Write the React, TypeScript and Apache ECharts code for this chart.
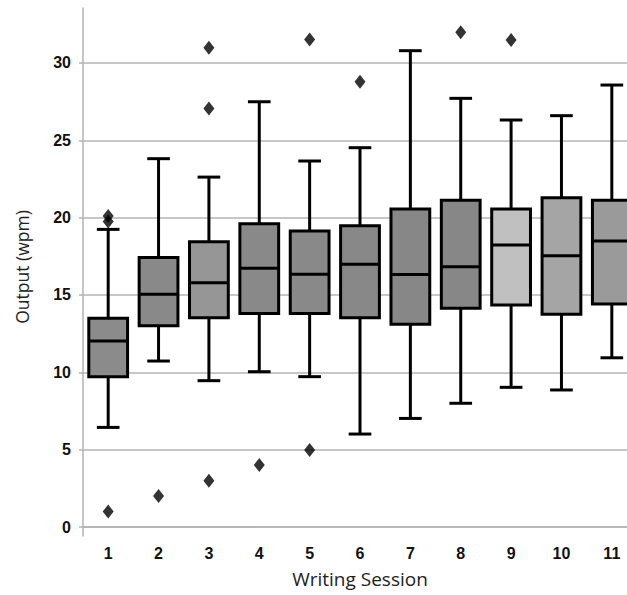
import React, { useEffect, useRef } from 'react';
import * as echarts from 'echarts';

const sessions = ['1', '2', '3', '4', '5', '6', '7', '8', '9', '10', '11'];
const lowerWhisker = [6.44, 10.73, 9.46, 10.04, 9.72, 6.01, 7.02, 8.0, 9.03, 8.86, 10.94];
const q1 = [9.72, 13.01, 13.53, 13.81, 13.81, 13.53, 13.1, 14.14, 14.35, 13.75, 14.41];
const median = [12.02, 15.04, 15.79, 16.72, 16.34, 16.98, 16.33, 16.83, 18.23, 17.54, 18.49];
const q3 = [13.49, 17.43, 18.44, 19.61, 19.13, 19.48, 20.56, 21.12, 20.56, 21.29, 21.12];
const upperWhisker = [19.24, 23.81, 22.62, 27.49, 23.66, 24.52, 30.79, 27.71, 26.31, 26.59, 28.57];
const boxColors = ['#8b8b8b', '#898989', '#969696', '#898989', '#898989', '#888888', '#878787', '#878787', '#c0c0c0', '#a5a5a5', '#9a9a9a'];
// outliers: [sessionIndex, value]
const outliers = [
  [0, 1.0], [0, 19.75], [0, 20.1],
  [1, 2.0],
  [2, 2.99], [2, 27.06], [2, 30.98],
  [3, 4.01],
  [4, 4.98], [4, 31.52],
  [5, 28.79],
  [7, 31.98],
  [8, 31.48],
];
const yTicks = [0, 5, 10, 15, 20, 25, 30];

export default function App() {
  const ref = useRef<HTMLDivElement>(null);
  useEffect(() => {
    const chart = echarts.init(ref.current!, null, { renderer: 'svg' });
    const boxData = sessions.map((_, i) => [i, lowerWhisker[i], q1[i], median[i], q3[i], upperWhisker[i]]);
    const renderBox = (params: any, api: any) => {
      const idx = api.value(0);
      const band = api.size([1, 0])[0];
      const boxW = band * 0.77;
      const capW = band * 0.45;
      const pLow = api.coord([idx, api.value(1)]);
      const pQ1 = api.coord([idx, api.value(2)]);
      const pMed = api.coord([idx, api.value(3)]);
      const pQ3 = api.coord([idx, api.value(4)]);
      const pHigh = api.coord([idx, api.value(5)]);
      const cx = pQ1[0];
      const lineStyle = { stroke: '#000', lineWidth: 3 };
      return {
        type: 'group',
        children: [
          { type: 'line', shape: { x1: cx, y1: pQ3[1], x2: cx, y2: pHigh[1] }, style: lineStyle },
          { type: 'line', shape: { x1: cx - capW / 2, y1: pHigh[1], x2: cx + capW / 2, y2: pHigh[1] }, style: lineStyle },
          { type: 'line', shape: { x1: cx, y1: pQ1[1], x2: cx, y2: pLow[1] }, style: lineStyle },
          { type: 'line', shape: { x1: cx - capW / 2, y1: pLow[1], x2: cx + capW / 2, y2: pLow[1] }, style: lineStyle },
          {
            type: 'rect',
            shape: { x: cx - boxW / 2, y: pQ3[1], width: boxW, height: pQ1[1] - pQ3[1] },
            style: { fill: boxColors[idx], stroke: '#000', lineWidth: 3 },
          },
          { type: 'line', shape: { x1: cx - boxW / 2, y1: pMed[1], x2: cx + boxW / 2, y2: pMed[1] }, style: lineStyle },
        ],
      };
    };
    chart.setOption({
      animation: false,
      grid: { left: 83, top: 8, bottom: 59, right: -10, containLabel: false, outerBoundsMode: 'none' },
      xAxis: {
        type: 'category',
        data: sessions,
        boundaryGap: true,
        axisTick: { show: false },
        axisLine: { show: true, lineStyle: { color: '#b3b3b3', width: 1.5 } },
        axisLabel: { color: '#111', fontWeight: 'bold', fontSize: 16, fontFamily: 'Liberation Sans, Arial, sans-serif', margin: 9 },
        splitLine: { show: false },
        name: 'Writing Session',
        nameLocation: 'middle',
        nameGap: 33,
        nameTextStyle: { fontSize: 19, fontFamily: 'Open Sans, sans-serif', color: '#222' },
      },
      yAxis: {
        type: 'value',
        min: -0.58,
        max: 33.55,
        axisLine: { show: true, lineStyle: { color: '#b3b3b3', width: 1.5 } },
        axisTick: { show: true, length: 4, customValues: yTicks, lineStyle: { color: '#b3b3b3', width: 1.5 } },
        axisLabel: {
          customValues: yTicks,
          color: '#111', fontWeight: 'bold', fontSize: 16, fontFamily: 'Liberation Sans, Arial, sans-serif', margin: 12,
        },
        splitLine: { show: true, lineStyle: { color: '#b5b5b5', width: 1.5 } },
        name: 'Output (wpm)',
        nameLocation: 'middle',
        nameGap: 52,
        nameTextStyle: { fontSize: 17.5, fontFamily: 'Open Sans, sans-serif', color: '#222', padding: [0, 0, 0, 10] },
      },
      series: [
        {
          type: 'custom',
          renderItem: renderBox,
          data: boxData,
          encode: { x: 0, y: [1, 2, 3, 4, 5] },
          z: 2,
        },
        {
          type: 'scatter',
          data: outliers,
          symbol: 'diamond',
          symbolSize: [11, 14],
          itemStyle: { color: '#000' },
          z: 3,
        },
      ],
    });
    return () => chart.dispose();
  }, []);
  return <div ref={ref} style={{ position: 'absolute', left: 0, top: 0, width: 627, height: 595 }} />;
}
